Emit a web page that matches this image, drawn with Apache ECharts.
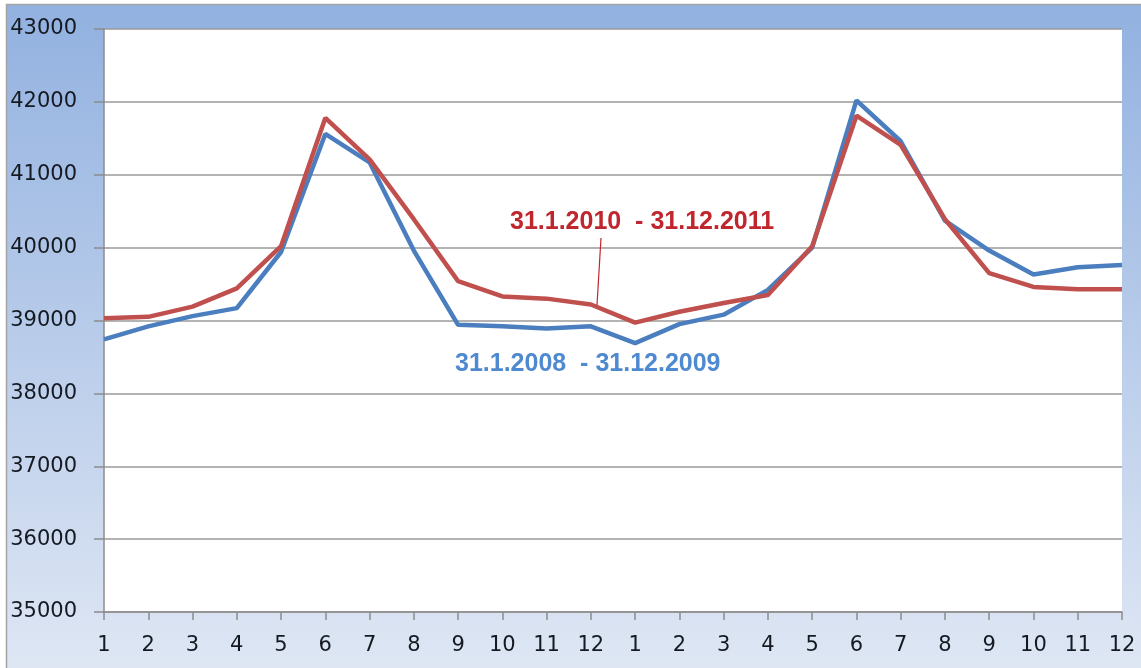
<!DOCTYPE html>
<html>
<head>
<meta charset="utf-8">
<script src="https://cdn.jsdelivr.net/npm/echarts@6/dist/echarts.min.js"></script>
<style>
html,body{margin:0;padding:0;background:#fff;}
#chart{width:1141px;height:668px;}
</style>
</head>
<body>
<div id="chart"></div>
<script>
const months = ['1','2','3','4','5','6','7','8','9','10','11','12','1','2','3','4','5','6','7','8','9','10','11','12'];
const series2008_2009 = [38740, 38920, 39060, 39170, 39940, 41560, 41170, 39960, 38940, 38920, 38890, 38920,
                         38690, 38950, 39080, 39420, 40000, 42020, 41460, 40370, 39960, 39630, 39730, 39760];
const series2010_2011 = [39030, 39050, 39190, 39440, 40020, 41780, 41210, 40390, 39540, 39330, 39300, 39220,
                         38970, 39120, 39240, 39350, 40020, 41810, 41410, 40390, 39650, 39460, 39430, 39430];
const label2008 = '31.1.2008  - 31.12.2009';
const label2010 = '31.1.2010  - 31.12.2011';

const chart = echarts.init(document.getElementById('chart'), null, {renderer: 'canvas'});
const axisFont = {fontFamily: 'DejaVu Sans', fontSize: 21, color: '#151a22'};
chart.setOption({
  animation: false,
  graphic: [
    {
      type: 'rect', z: -100, silent: true,
      shape: {x: 6.5, y: 4.5, width: 1140, height: 670},
      style: {
        fill: new echarts.graphic.LinearGradient(0, 0, 0, 1, [
          {offset: 0, color: '#92b1e0'},
          {offset: 1, color: '#dfe7f4'}
        ]),
        stroke: '#a4a4a4', lineWidth: 1.5
      }
    },
    {
      type: 'line', z: 10, silent: true,
      shape: {x1: 601, y1: 238, x2: 597, y2: 305},
      style: {stroke: '#c0262d', lineWidth: 1.2}
    },
    {
      type: 'text', z: 10, left: 510, top: 210,
      style: {text: label2010, fill: '#c0262d', font: 'bold 25px "Liberation Sans", Arial, sans-serif'}
    },
    {
      type: 'text', z: 10, left: 455, top: 352,
      style: {text: label2008, fill: '#4f8ad0', font: 'bold 25px "Liberation Sans", Arial, sans-serif'}
    }
  ],
  grid: {
    left: 104, right: 19, top: 29, bottom: 56,
    show: true, backgroundColor: '#ffffff', borderWidth: 0
  },
  xAxis: {
    type: 'category',
    data: months,
    boundaryGap: false,
    axisLine: {lineStyle: {color: '#8c8c8c', width: 1.5}},
    axisTick: {show: true, length: 8, lineStyle: {color: '#8c8c8c', width: 1.5}},
    axisLabel: Object.assign({margin: 23, interval: 0}, axisFont),
    splitLine: {show: false}
  },
  yAxis: {
    type: 'value',
    min: 35000, max: 43000, interval: 1000,
    axisLine: {show: true, lineStyle: {color: '#8c8c8c', width: 1.5}},
    axisTick: {show: true, length: 10, lineStyle: {color: '#8c8c8c', width: 1.5}},
    axisLabel: Object.assign({margin: 27, formatter: function (v) { return String(v); }}, axisFont),
    splitLine: {show: true, lineStyle: {color: '#9a9a9a', width: 1.5}}
  },
  series: [
    {
      name: label2008, type: 'line', data: series2008_2009,
      symbol: 'none', lineStyle: {color: '#4a7ebe', width: 4.5}, itemStyle: {color: '#4a7ebe'}, z: 3
    },
    {
      name: label2010, type: 'line', data: series2010_2011,
      symbol: 'none', lineStyle: {color: '#c0504d', width: 4.5}, itemStyle: {color: '#c0504d'}, z: 4
    }
  ]
});
</script>
</body>
</html>
